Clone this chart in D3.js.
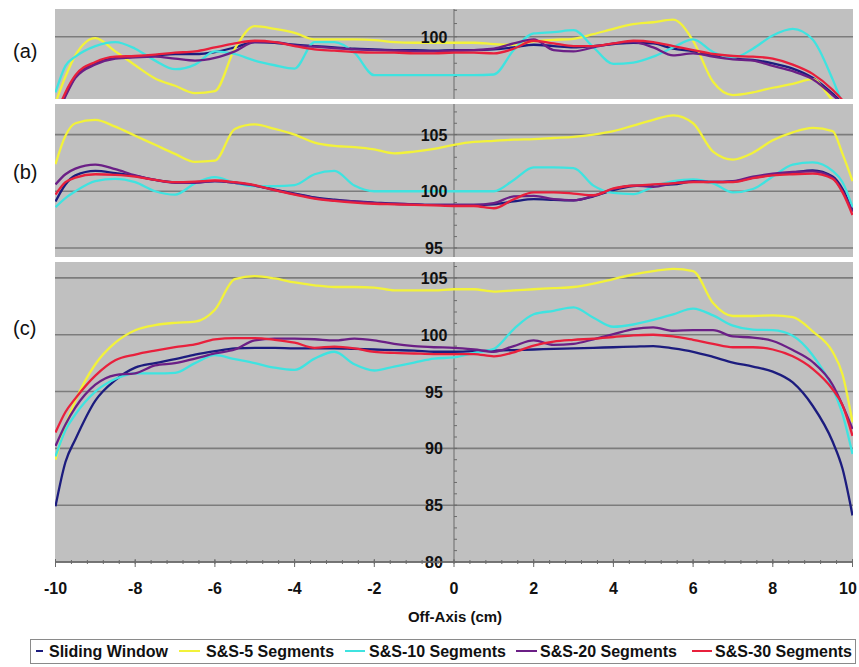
<!DOCTYPE html>
<html>
<head>
<meta charset="utf-8">
<script src="https://cdn.jsdelivr.net/npm/d3@7"></script>
<style>
  body { margin: 0; background: #fff; }
  svg { display: block; font-family: "Liberation Sans", Arial, sans-serif; }
  .tick { font-weight: bold; font-size: 16px; fill: #111; }
</style>
</head>
<body>
<div class="chart"></div>
<script>
// off-axis positions (cm) shared by every curve
var offAxis = [-10, -9.75, -9.5, -9, -8.5, -8, -7.5, -7, -6.5, -6, -5.5, -5, -4.5, -4, -3.5, -3, -2.5, -2, -1.5, -1, -0.5,
    0, 0.5, 1, 1.5, 2, 2.5, 3, 3.5, 4, 4.5, 5, 5.5, 6, 6.5, 7, 7.5, 8, 8.5, 9, 9.5, 9.75, 10];

var seriesNames = ["Sliding Window", "S&S-5 Segments", "S&S-10 Segments", "S&S-20 Segments", "S&S-30 Segments"];
var xTicks = [-10, -8, -6, -4, -2, 0, 2, 4, 6, 8, 10];

// panel (a)
var aSliding = [94.0, 95.6, 97.0, 98.0, 98.4, 98.5, 98.6, 98.7, 98.7, 98.85, 99.2, 99.6, 99.55, 99.4, 99.3, 99.2, 99.1, 99.05, 99.0, 99.0, 98.95,
    99.0, 99.0, 99.05, 99.2, 99.4, 99.3, 99.2, 99.3, 99.45, 99.55, 99.5, 99.1, 98.9, 98.6, 98.35, 98.25, 98.0, 97.6, 96.9, 95.7, 95.0, 94.0];
var aSS5 = [95.0, 97.0, 98.6, 99.9, 98.9, 97.85, 96.85, 96.3, 95.75, 95.9, 99.1, 100.8, 100.6, 100.3, 99.8, 99.8, 99.8, 99.75, 99.6, 99.55, 99.55,
    99.55, 99.55, 99.45, 99.4, 99.65, 99.77, 99.85, 100.2, 100.6, 100.95, 101.1, 101.3, 99.7, 96.6, 95.6, 95.8, 96.15, 96.45, 96.8, 95.2, 94.5, 93.5];
var aSS10 = [95.8, 97.8, 98.5, 99.3, 99.6, 99.1, 98.2, 97.55, 97.9, 98.9, 98.7, 98.2, 97.85, 97.6, 99.6, 99.6, 98.8, 97.1, 97.1, 97.1, 97.1,
    97.1, 97.1, 97.15, 99.0, 100.25, 100.35, 100.5, 99.2, 97.95, 98.05, 98.5, 99.2, 99.8, 98.85, 98.4, 99.1, 100.1, 100.6, 99.8, 96.8, 95.0, 94.0];
var aSS20 = [93.8, 95.5, 96.9, 97.9, 98.35, 98.45, 98.5, 98.35, 98.2, 98.4, 98.9, 99.6, 99.6, 99.35, 99.25, 99.15, 99.05, 99.0, 98.95, 98.9, 98.9,
    98.95, 99.0, 99.1, 99.5, 99.8, 99.0, 98.9, 99.2, 99.5, 99.6, 99.2, 98.6, 98.75, 98.5, 98.3, 98.2, 97.8, 97.4, 96.8, 95.6, 94.9, 93.9];
var aSS30 = [94.0, 95.8, 97.1, 98.1, 98.5, 98.55, 98.65, 98.8, 98.9, 99.2, 99.5, 99.7, 99.6, 99.3, 99.05, 98.95, 98.85, 98.8, 98.8, 98.75, 98.75,
    98.8, 98.8, 98.75, 99.1, 99.7, 99.5, 99.3, 99.3, 99.5, 99.7, 99.6, 99.3, 99.0, 98.7, 98.55, 98.5, 98.35, 97.9, 97.2, 96.0, 95.2, 94.2];

// panel (b)
var bSliding = [99.1, 100.6, 101.4, 101.8, 101.6, 101.35, 101.0, 100.8, 100.8, 100.9, 100.75, 100.5, 100.15, 99.8, 99.45, 99.25, 99.1, 99.0, 98.9, 98.85, 98.8,
    98.8, 98.8, 98.85, 99.1, 99.3, 99.25, 99.2, 99.55, 100.1, 100.45, 100.55, 100.6, 100.85, 100.8, 100.85, 101.2, 101.45, 101.65, 101.85, 101.3, 100.2, 98.3];
var bSS5 = [102.4, 104.9, 106.0, 106.3, 105.7, 104.9, 104.1, 103.3, 102.6, 102.7, 105.5, 105.9, 105.5, 105.0, 104.3, 104.0, 103.9, 103.7, 103.35, 103.5, 103.75,
    104.1, 104.35, 104.45, 104.55, 104.6, 104.7, 104.8, 105.0, 105.3, 105.8, 106.3, 106.7, 106.0, 103.5, 102.8, 103.4, 104.5, 105.2, 105.6, 105.3, 103.3, 100.9];
var bSS10 = [98.6, 99.4, 100.0, 100.9, 101.1, 100.8, 100.0, 99.7, 100.7, 101.25, 100.75, 100.45, 100.45, 100.55, 101.5, 101.8, 100.5, 100.0, 100.0, 100.0, 100.0,
    100.0, 100.0, 100.0, 101.0, 102.1, 102.1, 102.05, 100.5, 99.85, 99.75, 100.4, 100.9, 101.05, 100.7, 99.9, 100.2, 101.3, 102.35, 102.55, 101.8, 100.8, 98.6];
var bSS20 = [100.6, 101.5, 102.0, 102.35, 101.95, 101.4, 101.0, 100.75, 100.75, 100.9, 100.75, 100.5, 100.1, 99.75, 99.4, 99.2, 99.1, 98.95, 98.9, 98.85, 98.8,
    98.8, 98.8, 98.95, 99.55, 99.6, 99.3, 99.2, 99.6, 100.2, 100.5, 100.4, 100.7, 100.9, 100.85, 100.9, 101.3, 101.55, 101.7, 101.75, 101.2, 100.0, 98.2];
var bSS30 = [99.7, 100.8, 101.2, 101.5, 101.45, 101.3, 101.0, 100.8, 100.85, 100.95, 100.8, 100.55, 100.1, 99.7, 99.35, 99.15, 99.0, 98.9, 98.85, 98.8, 98.75,
    98.7, 98.7, 98.5, 99.3, 99.9, 99.9, 99.8, 99.65, 100.25, 100.5, 100.6, 100.7, 100.8, 100.8, 100.8, 101.15, 101.4, 101.5, 101.55, 101.1, 99.9, 97.9];

// panel (c)
var cSliding = [84.9, 88.8, 90.8, 94.2, 96.0, 97.1, 97.5, 97.85, 98.25, 98.55, 98.8, 98.85, 98.85, 98.8, 98.8, 98.8, 98.75, 98.7, 98.65, 98.6, 98.5,
    98.5, 98.55, 98.6, 98.65, 98.7, 98.75, 98.8, 98.85, 98.9, 98.95, 99.0, 98.8, 98.5, 98.05, 97.55, 97.2, 96.75, 95.8, 93.75, 90.6, 88.2, 84.1];
var cSS5 = [89.0, 92.0, 94.2, 97.4, 99.3, 100.4, 100.85, 101.05, 101.15, 102.2, 104.9, 105.15, 104.95, 104.6, 104.35, 104.2, 104.2, 104.15, 103.9, 103.9, 103.9,
    104.0, 104.0, 103.8, 103.9, 104.0, 104.1, 104.2, 104.5, 104.9, 105.3, 105.6, 105.8, 105.6, 102.8, 101.65, 101.65, 101.7, 101.55, 100.3, 98.5, 96.5, 92.3];
var cSS10 = [89.3, 91.6, 93.0, 95.0, 96.1, 96.6, 96.6, 96.65, 97.5, 98.2, 97.85, 97.5, 97.1, 96.9, 97.9, 98.5, 97.4, 96.85, 97.2, 97.55, 97.9,
    98.0, 98.4, 98.75, 100.5, 101.8, 102.1, 102.4, 101.5, 100.7, 100.9, 101.3, 101.8, 102.3, 101.7, 100.8, 100.45, 100.4, 99.9, 98.2, 95.3, 93.0, 89.5];
var cSS20 = [90.2, 92.1, 93.6, 95.6, 96.45, 96.6, 97.3, 97.5, 97.9, 98.35, 98.7, 99.5, 99.65, 99.65, 99.6, 99.5, 99.65, 99.5, 99.2, 99.0, 98.9,
    98.85, 98.7, 98.5, 99.0, 99.5, 99.1, 99.2, 99.6, 100.05, 100.5, 100.65, 100.35, 100.4, 100.4, 99.85, 99.75, 99.45, 98.65, 97.6, 95.6, 93.8, 91.7];
var cSS30 = [91.4, 93.2, 94.4, 96.4, 97.75, 98.25, 98.6, 98.9, 99.15, 99.6, 99.7, 99.7, 99.55, 99.3, 98.85, 98.95, 98.8, 98.5, 98.4, 98.35, 98.3,
    98.3, 98.3, 98.1, 98.45, 99.05, 99.4, 99.55, 99.65, 99.8, 99.95, 100.0, 99.85, 99.55, 99.2, 98.9, 98.9, 98.7, 98.1, 97.0, 95.2, 93.8, 91.1];

var colors = ["#1c1c7e", "#f2f23a", "#3fe3e0", "#6b1f86", "#e8203c"];

var width = 859, height = 667;
var left = 55, right = 853;

var svg = d3.select(".chart").append("svg")
    .attr("width", width)
    .attr("height", height);

var x = d3.scaleLinear().domain([-10, 10]).range([left + 0.5, right - 0.5]);

function drawPanel(id, label, labelY, top, bottom, domain, grid, series) {
    var y = d3.scaleLinear().domain(domain).range([bottom, top]);
    var g = svg.append("g");

    g.append("rect")
        .attr("x", left)
        .attr("y", top)
        .attr("width", right - left)
        .attr("height", bottom - top)
        .attr("fill", "#c0c0c0");

    g.selectAll(".grid")
        .data(grid)
        .enter().append("line")
        .attr("x1", left)
        .attr("x2", right)
        .attr("y1", function(d) { return y(d); })
        .attr("y2", function(d) { return y(d); })
        .attr("stroke", "#7c7c7c")
        .attr("stroke-width", 1.6);

    // y axis through x = 0 with minor ticks
    g.append("line")
        .attr("x1", x(0))
        .attr("x2", x(0))
        .attr("y1", top)
        .attr("y2", bottom)
        .attr("stroke", "#6a6a6a")
        .attr("stroke-width", 1);

    g.selectAll(".minor")
        .data(d3.range(Math.ceil(domain[0]), Math.floor(domain[1]) + 1))
        .enter().append("line")
        .attr("x1", x(0))
        .attr("x2", x(0) + 3)
        .attr("y1", function(d) { return y(d); })
        .attr("y2", function(d) { return y(d); })
        .attr("stroke", "#6a6a6a")
        .attr("stroke-width", 1);

    svg.append("clipPath")
        .attr("id", "clip-" + id)
        .append("rect")
        .attr("x", left)
        .attr("y", top)
        .attr("width", right - left)
        .attr("height", bottom - top);

    var line = d3.line()
        .x(function(d, i) { return x(offAxis[i]); })
        .y(function(d) { return y(d); })
        .curve(d3.curveMonotoneX);

    g.append("g")
        .attr("clip-path", "url(#clip-" + id + ")")
        .selectAll("path")
        .data(series)
        .enter().append("path")
        .attr("d", line)
        .attr("fill", "none")
        .attr("stroke", function(d, i) { return colors[i]; })
        .attr("stroke-width", 2.3)
        .attr("stroke-linejoin", "round");

    g.selectAll(".ylab")
        .data(grid)
        .enter().append("text")
        .attr("class", "tick")
        .attr("x", 434)
        .attr("y", function(d) { return y(d) + 6; })
        .attr("text-anchor", "middle")
        .text(function(d) { return d; });

    g.append("text")
        .attr("x", 13)
        .attr("y", labelY + 7)
        .style("font-size", "20px")
        .style("fill", "#111")
        .text(label);

    return y;
}

drawPanel("a", "(a)", 51, 9, 99, [95.3, 102.1], [100], [aSliding, aSS5, aSS10, aSS20, aSS30]);
drawPanel("b", "(b)", 172, 104, 257, [94.2, 107.7], [105, 100, 95], [bSliding, bSS5, bSS10, bSS20, bSS30]);
var yc = drawPanel("c", "(c)", 328, 262, 562, [80, 106.4], [105, 100, 95, 90, 85, 80], [cSliding, cSS5, cSS10, cSS20, cSS30]);

// x axis at bottom of panel (c)
var axisY = yc(80);
svg.append("line")
    .attr("x1", left)
    .attr("x2", right)
    .attr("y1", axisY)
    .attr("y2", axisY)
    .attr("stroke", "#6a6a6a")
    .attr("stroke-width", 1.4);

svg.selectAll(".xminor")
    .data(d3.range(0, 51).map(function(i) { return -10 + i * 0.4; }))
    .enter().append("line")
    .attr("x1", function(d) { return x(d); })
    .attr("x2", function(d) { return x(d); })
    .attr("y1", axisY - 2)
    .attr("y2", axisY + 2)
    .attr("stroke", "#6a6a6a");

svg.selectAll(".xmajor")
    .data(xTicks)
    .enter().append("line")
    .attr("x1", function(d) { return x(d); })
    .attr("x2", function(d) { return x(d); })
    .attr("y1", axisY - 3)
    .attr("y2", axisY + 5)
    .attr("stroke", "#6a6a6a");

svg.selectAll(".xlab")
    .data(xTicks)
    .enter().append("text")
    .attr("class", "tick")
    .attr("x", function(d) { return Math.min(x(d), width - 11); })
    .attr("y", 594)
    .attr("text-anchor", "middle")
    .text(function(d) { return d; });

svg.append("text")
    .attr("class", "tick")
    .attr("x", 455)
    .attr("y", 622)
    .attr("text-anchor", "middle")
    .style("font-size", "15px")
    .text("Off-Axis (cm)");

// legend
var legendItems = [
    { x1: 36, x2: 43, tx: 49 },
    { x1: 179, x2: 200, tx: 206 },
    { x1: 345, x2: 365, tx: 369 },
    { x1: 516, x2: 537, tx: 540 },
    { x1: 692, x2: 712, tx: 715 }
];

svg.append("rect")
    .attr("x", 30.5)
    .attr("y", 639.5)
    .attr("width", 825)
    .attr("height", 24)
    .attr("fill", "white")
    .attr("stroke", "#8a8a8a")
    .attr("stroke-width", 1);

var legend = svg.selectAll(".legend")
    .data(seriesNames)
    .enter().append("g");

legend.append("line")
    .attr("x1", function(d, i) { return legendItems[i].x1; })
    .attr("x2", function(d, i) { return legendItems[i].x2; })
    .attr("y1", 651)
    .attr("y2", 651)
    .attr("stroke", function(d, i) { return colors[i]; })
    .attr("stroke-width", 2);

legend.append("text")
    .attr("class", "tick")
    .attr("x", function(d, i) { return legendItems[i].tx; })
    .attr("y", 657)
    .text(function(d) { return d; });
</script>
</body>
</html>
